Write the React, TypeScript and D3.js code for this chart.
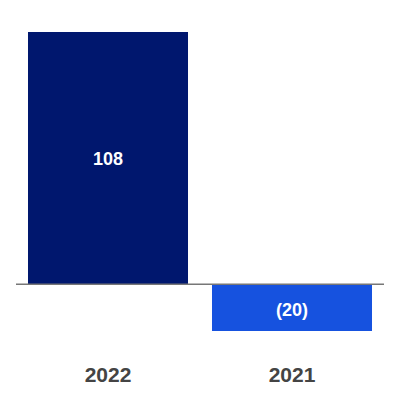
import React from "react";
import * as d3 from "d3";

const categories = ["2022", "2021"];
const values = [108, -20];
const valueLabels = ["108", "(20)"];
const colors = ["#00176e", "#1652df"];

export default function App() {
  const width = 400;
  const height = 400;
  const x = d3.scaleBand<string>().domain(categories).range([16, 384]).paddingInner(0.1304).paddingOuter(0.0652);
  const y = d3.scaleLinear().domain([-20, 108]).range([331, 32]);
  const font = "'Liberation Sans', Arial, sans-serif";
  return (
    <svg width={width} height={height} style={{ position: "absolute", left: 0, top: 0 }}>
      <rect width={width} height={height} fill="#fff" />
      {categories.map((c, i) => {
        const v = values[i];
        const y0 = y(0);
        const y1 = y(v);
        const top = Math.min(y0, y1);
        const h = Math.abs(y1 - y0);
        const cx = (x(c) as number) + x.bandwidth() / 2;
        return (
          <g key={c}>
            <rect x={x(c)} y={top} width={x.bandwidth()} height={h} fill={colors[i]} />
            <text x={cx} y={top + h / 2 + (v < 0 ? 4 : 2)} fill="#fff" fontFamily={font} fontWeight="bold" fontSize={18} textAnchor="middle" dominantBaseline="middle">
              {valueLabels[i]}
            </text>
            <text x={cx} y={382} fill="#444" fontFamily={font} fontWeight="bold" fontSize={21} textAnchor="middle">
              {c}
            </text>
          </g>
        );
      })}
      <line x1={16} x2={384} y1={y(0)} y2={y(0)} stroke="#777" strokeWidth={1.5} />
    </svg>
  );
}
